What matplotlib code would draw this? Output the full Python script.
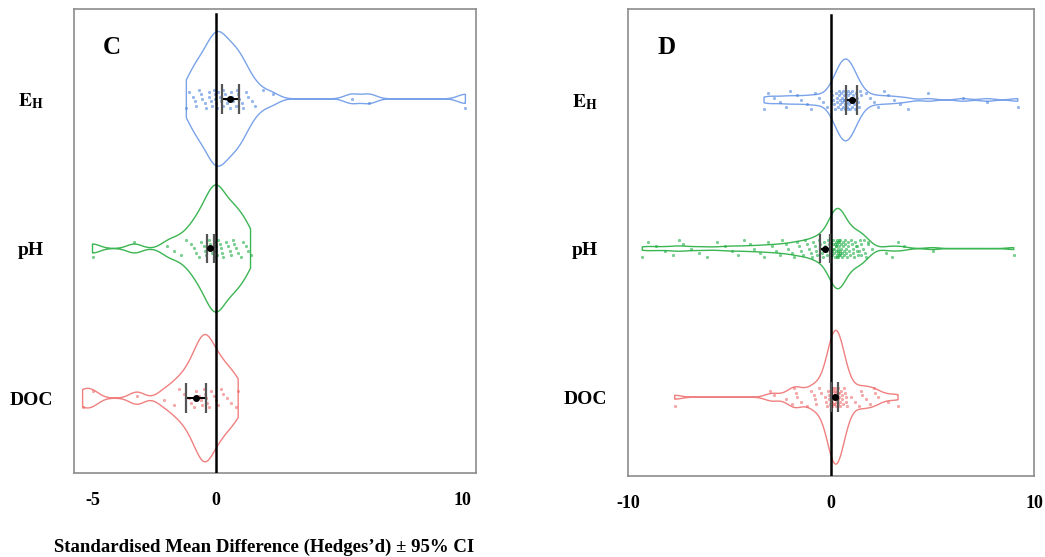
import numpy as np
import matplotlib
matplotlib.use('Agg')
import matplotlib.pyplot as plt

plt.rcParams['font.family'] = 'Liberation Serif'
plt.rcParams['font.weight'] = 'bold'
plt.rcParams['mathtext.fontset'] = 'stix'

# categories, top to bottom
categories = [r'$\mathbf{E_H}$', 'pH', 'DOC']
colors = ['#7aa3ea', '#3cb553', '#f08080']
point_colors = ['#4f86df', '#1fae45', '#ef6a6a']

# panel C: individual effect sizes (Hedges' d)
c_eh = [-1.2, -1.1, -0.95, -0.85, -0.8, -0.7, -0.6, -0.55, -0.45, -0.4, -0.3, -0.28,
        -0.2, -0.15, -0.1, -0.05, -0.02, 0.02, 0.05, 0.1, 0.15, 0.2, 0.28, 0.3, 0.35,
        0.4, 0.45, 0.55, 0.6, 0.65, 0.7, 0.8, 0.85, 0.9, 0.95, 1.05, 1.1, 1.2, 1.3,
        1.45, 1.6, 1.9, 2.3, 5.5, 6.2, 10.1]
c_ph = [-5.0, -3.3, -2.0, -1.7, -1.4, -1.2, -1.0, -0.9, -0.8, -0.7, -0.6, -0.5, -0.45,
        -0.4, -0.3, -0.25, -0.2, -0.15, -0.1, -0.05, 0.0, 0.02, 0.05, 0.1, 0.15, 0.2,
        0.25, 0.3, 0.4, 0.5, 0.55, 0.6, 0.7, 0.75, 0.8, 0.9, 1.0, 1.1, 1.2, 1.3, 1.4]
c_doc = [-5.4, -5.0, -3.2, -2.1, -1.7, -1.5, -1.3, -1.1, -1.0, -0.9, -0.8, -0.7, -0.6,
         -0.55, -0.5, -0.45, -0.4, -0.35, -0.3, -0.2, -0.1, 0.0, 0.1, 0.2, 0.3, 0.45,
         0.6, 0.8, 0.9]
c_mean = [0.57, -0.24, -0.81]
c_lo = [0.24, -0.37, -1.21]
c_hi = [0.93, -0.08, -0.40]

# panel D
d_eh = [-3.3, -3.1, -2.8, -2.5, -2.2, -2.0, -1.7, -1.5, -1.2, -1.0, -0.8, -0.6, -0.4, -0.2,
        0.0, 0.05, 0.1, 0.15, 0.2, 0.22, 0.28, 0.3, 0.35, 0.38, 0.4, 0.42, 0.45, 0.48,
        0.5, 0.52, 0.55, 0.58, 0.6, 0.62, 0.65, 0.68, 0.7, 0.72, 0.75, 0.78, 0.8, 0.82,
        0.85, 0.88, 0.9, 0.92, 0.95, 0.98, 1.0, 1.02, 1.05, 1.1, 1.12, 1.15, 1.2, 1.25,
        1.3, 1.35, 1.4, 1.45, 1.5, 0.66, 0.74, 0.86,
        1.7, 1.9, 2.1, 2.3, 2.6, 2.8, 3.1, 3.4, 3.8, 4.8, 6.5, 7.7, 9.2]
d_ph = [-9.3, -9.0, -8.6, -8.2, -7.8, -7.5, -7.3, -6.9, -6.5, -6.1, -5.6, -5.2, -4.9,
        -4.6, -4.3, -4.0, -3.8, -3.5, -3.3, -3.1, -2.9, -2.7, -2.5, -2.4, -2.2, -2.1,
        -1.9, -1.8, -1.7, -1.6,
        -1.5, -1.4, -1.3, -1.2, -1.1, -1.0, -0.95, -0.9, -0.8, -0.75, -0.7, -0.6, -0.55,
        -0.5, -0.45, -0.4, -0.35, -0.3, -0.25, -0.2,
        -0.15, -0.1, -0.08, -0.05, -0.02, 0.0, 0.02, 0.05, 0.07, 0.1, 0.12, 0.15, 0.17,
        0.2, 0.22, 0.24, 0.26, 0.28, 0.3, 0.31, 0.33, 0.35, 0.36, 0.38, 0.4, 0.42, 0.44,
        0.46, 0.48, 0.5, 0.52, 0.55, 0.57, 0.6, 0.62, 0.65, 0.68, 0.7, 0.73, 0.76, 0.8,
        0.83, 0.86, 0.9, 0.94, 0.98, 1.02, 1.06, 1.1, 1.15, 1.2, 0.25, 0.32, 0.37, 0.41,
        0.18, 0.08, 0.45, 0.29, 0.34, 1.25, 1.3, 1.35, 1.42, 1.5, 1.58, 1.65, 1.72, 1.8,
        1.3, 1.4, 1.5, 1.6, 1.8, 2.0, 2.7, 3.0, 3.3, 3.6, 5.0, 9.0]
d_doc = [-7.7, -3.0, -2.8, -2.2, -1.9, -1.8, -1.75, -1.7, -1.5, -1.2, -1.0, -0.85, -0.8,
         -0.75, -0.6, -0.5,
         -0.3, -0.25, -0.2, -0.15, -0.1, -0.08, -0.05, -0.02, 0.0, 0.02, 0.05, 0.07, 0.1,
         0.12, 0.14, 0.16, 0.18, 0.2, 0.22, 0.24, 0.26, 0.28, 0.3, 0.32, 0.34, 0.36, 0.38,
         0.4, 0.43, 0.46, 0.5, 0.53, 0.56, 0.6, 0.64, 0.68, 0.72, 0.76, 0.8, 0.21, 0.27,
         0.31, 0.17, 0.11, 0.35,
         1.0, 1.2, 1.4, 1.5, 1.55, 1.7, 1.9, 2.1, 2.15, 2.3, 2.8, 3.3]
d_mean = [1.02, -0.30, 0.20]
d_lo = [0.73, -0.54, 0.02]
d_hi = [1.27, -0.05, 0.34]

y_pos = [3, 2, 1]


def draw_panel(ax, groups, means, lo, hi, widths, bw, xlim, ylim, xticks, letter, zero_top):
    for i, vals in enumerate(groups):
        y = y_pos[i]
        vals = np.asarray(vals)
        parts = ax.violinplot([vals], positions=[y], widths=widths[i], showextrema=False,
                              orientation='horizontal', points=600,
                              bw_method=lambda k, b=bw: b / np.std(k.dataset))
        body = parts['bodies'][0]
        body.set_alpha(1.0)
        body.set_facecolor('none')
        body.set_edgecolor(colors[i])
        body.set_linewidth(1.0)

        n = len(vals)
        jit = (((np.arange(n) * 7) % 9) - 4) / 4 * 0.06
        ax.scatter(vals, y + jit, s=3, facecolors=point_colors[i], edgecolors=point_colors[i],
                   linewidths=0.5, alpha=0.55, zorder=3)

        ax.plot([lo[i], hi[i]], [y, y], color='black', lw=1.5, zorder=5)
        ax.vlines([lo[i], hi[i]], y - 0.1, y + 0.1, colors='#555555', lw=1.6, zorder=5)
        ax.plot(means[i], y, 'o', color='black', ms=4, zorder=6)

    ax.axvline(0, ymin=0, ymax=zero_top, color='black', lw=1.8, zorder=4)
    ax.set_xticks(xticks)
    ax.set_xticklabels([str(t) for t in xticks])
    ax.set_xlim(*xlim)
    ax.set_ylim(*ylim)
    ax.set_yticks(y_pos)
    ax.set_yticklabels(categories)
    ax.tick_params(axis='x', length=0, pad=14, labelsize=13)
    ax.tick_params(axis='y', length=0, pad=31, labelsize=14)
    for lbl in ax.get_yticklabels():
        lbl.set_horizontalalignment('center')
    for sp in ax.spines.values():
        sp.set_color('#8c8c8c')
        sp.set_linewidth(1.2)
    ax.text(0.095, 0.918, letter, transform=ax.transAxes, ha='center', va='center',
            fontsize=18, fontweight='bold')


fig = plt.figure(figsize=(10.45, 5.57), dpi=100)
ax_c = fig.add_axes([0.0708, 0.1508, 0.3847, 0.833])
ax_d = fig.add_axes([0.601, 0.1454, 0.3885, 0.838])

draw_panel(ax_c, [c_eh, c_ph, c_doc], c_mean, c_lo, c_hi, [0.9, 0.85, 0.85], 0.3,
           (-5.75, 10.53), (0.5, 3.6), [-5, 0, 10], 'C', 0.989)
draw_panel(ax_d, [d_eh, d_ph, d_doc], d_mean, d_lo, d_hi, [0.55, 0.54, 0.9], 0.33,
           (-10.0, 10.0), (0.47, 3.61), [-10, 0, 10], 'D', 0.987)

fig.text(264 / 1045, 1 - 547 / 557, 'Standardised Mean Difference (Hedges\u2019d) \u00b1 95% CI',
         ha='center', va='center', fontsize=13.5, fontweight='bold')

fig.savefig('out.png', dpi=100)
